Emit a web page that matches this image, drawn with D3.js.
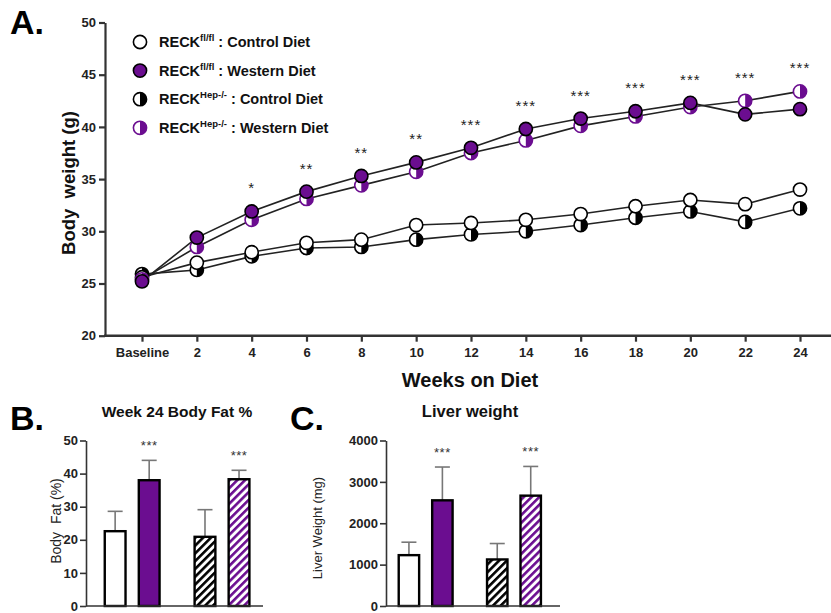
<!DOCTYPE html>
<html><head><meta charset="utf-8">
<script src="https://cdn.jsdelivr.net/npm/d3@7"></script>
<style>
body{margin:0;background:#fff;}
svg{display:block;}
</style></head><body>
<svg id="c" width="831" height="613"></svg>
<script>
// ---------- DATA ----------
const weeks = ["Baseline","2","4","6","8","10","12","14","16","18","20","22","24"];
const flCD  = [25.6, 27.0, 28.0, 28.9, 29.2, 30.6, 30.8, 31.1, 31.65, 32.4, 33.0, 32.6, 34.0];
const flWD  = [25.2, 29.4, 31.9, 33.8, 35.3, 36.6, 38.0, 39.8, 40.8, 41.5, 42.3, 41.2, 41.7];
const hepCD = [25.9, 26.3, 27.6, 28.4, 28.5, 29.2, 29.7, 30.0, 30.6, 31.3, 31.9, 30.9, 32.2];
const hepWD = [25.4, 28.5, 31.1, 33.1, 34.4, 35.7, 37.5, 38.7, 40.1, 41.0, 41.9, 42.5, 43.4];
const sigA  = ["", "", "*", "**", "**", "**", "***", "***", "***", "***", "***", "***", "***"];
const yTicksA = [20, 25, 30, 35, 40, 45, 50];

const barGroups = ["RECKfl/fl", "RECKHep-/-"];
const barDiets = ["Control Diet", "Western Diet"];
const fatMean = [22.6, 38.0, 20.9, 38.3];
const fatErr  = [6.0, 6.0, 8.2, 2.7];
const fatSig  = ["", "***", "", "***"];
const fatTicks = [0, 10, 20, 30, 40, 50];
const liverMean = [1229, 2554, 1125, 2667];
const liverErr  = [313, 805, 385, 706];
const liverSig  = ["", "***", "", "***"];
const liverTicks = [0, 1000, 2000, 3000, 4000];

// ---------- STYLE ----------
const purple = "#6b0d90";
const axisCol = "#333";
const narrow = "'Liberation Sans Narrow','Arial Narrow',sans-serif";
const sans = "'Liberation Sans',Arial,sans-serif";

const svg = d3.select("#c");
const defs = svg.append("defs");
function hatch(id, col){
  const p = defs.append("pattern").attr("id", id).attr("patternUnits","userSpaceOnUse")
    .attr("width", 5.5).attr("height", 10).attr("patternTransform","rotate(45)");
  p.append("rect").attr("width",5.5).attr("height",10).attr("fill","#fff");
  p.append("rect").attr("width",2.6).attr("height",10).attr("fill",col);
}
hatch("hB", "#000");
hatch("hP", purple);

// ---------- MARKERS ----------
function marker(g, cx, cy, type){
  const r = 6.6;
  const stroke = type === "halfPurple" ? purple : "#000";
  const fill = type === "filled" ? purple : "#fff";
  g.append("circle").attr("cx",cx).attr("cy",cy).attr("r",r).attr("fill",fill);
  if (type === "halfBlack" || type === "halfPurple") {
    g.append("path")
      .attr("d", `M${cx},${cy-r} A${r},${r} 0 0 1 ${cx},${cy+r} Z`)
      .attr("fill", type === "halfBlack" ? "#000" : purple);
  }
  g.append("circle").attr("cx",cx).attr("cy",cy).attr("r",r).attr("fill","none")
    .attr("stroke",stroke).attr("stroke-width",1.6);
}

// ---------- PANEL A ----------
const xA = d3.scalePoint().domain(weeks).range([142, 800]);
const yA = d3.scaleLinear().domain([20, 50]).range([335.7, 22.5]);
const gA = svg.append("g");

const yAxA = gA.append("g").attr("transform","translate(105,0)")
  .call(d3.axisLeft(yA).tickValues(yTicksA).tickSize(6).tickSizeOuter(0).tickPadding(3));
yAxA.select(".domain").attr("stroke",axisCol).attr("stroke-width",2.2);
yAxA.selectAll(".tick line").attr("stroke",axisCol).attr("stroke-width",2.2);
yAxA.selectAll(".tick text").attr("font-family",narrow).attr("font-weight","bold")
  .attr("font-size",13).attr("fill","#222");

const xAxA = gA.append("g").attr("transform",`translate(0,${yA(20)})`)
  .call(d3.axisBottom(xA).tickSize(6).tickPadding(6));
xAxA.select(".domain").remove();
xAxA.selectAll(".tick line").attr("stroke",axisCol).attr("stroke-width",2.2);
xAxA.selectAll(".tick text").attr("font-family",narrow).attr("font-weight","bold")
  .attr("font-size",13).attr("fill","#222");
gA.append("line").attr("x1",104).attr("x2",831).attr("y1",yA(20)).attr("y2",yA(20))
  .attr("stroke",axisCol).attr("stroke-width",2.4);

const series = [
  {values: flCD,  type: "open",       label: "fl/fl",  diet: " : Control Diet"},
  {values: flWD,  type: "filled",     label: "fl/fl",  diet: " : Western Diet"},
  {values: hepCD, type: "halfBlack",  label: "Hep-/-", diet: " : Control Diet"},
  {values: hepWD, type: "halfPurple", label: "Hep-/-", diet: " : Western Diet"}
];
const line = d3.line().x((d,i) => xA(weeks[i])).y(d => yA(d));
series.forEach(s => {
  gA.append("path").datum(s.values).attr("d", line).attr("fill","none")
    .attr("stroke","#222").attr("stroke-width",1.6);
});
[2, 0, 3, 1].forEach(k => {
  const s = series[k];
  const mg = gA.append("g");
  s.values.forEach((v,i) => marker(mg, xA(weeks[i]), yA(v), s.type));
});

// significance stars
sigA.forEach((s,i) => {
  if (!s) return;
  const top = Math.max(flWD[i], hepWD[i]);
  gA.append("text").attr("x", xA(weeks[i])).attr("y", yA(top) - 18)
    .attr("text-anchor","middle").attr("font-family",sans).attr("font-size",15)
    .attr("letter-spacing",1).attr("fill","#222").text(s);
});

// legend
series.forEach((s,i) => {
  const ly = 42 + i*28.6;
  marker(gA, 140, ly, s.type);
  const t = gA.append("text").attr("x",159).attr("y",ly+5).attr("font-family",sans)
    .attr("font-weight","bold").attr("font-size",14.5).attr("fill","#111");
  t.append("tspan").text("RECK");
  t.append("tspan").attr("dy",-6).attr("font-size",9.5).text(s.label);
  t.append("tspan").attr("dy",6).text(s.diet);
});

// titles
gA.append("text").attr("transform",`translate(75,183) rotate(-90)`)
  .attr("text-anchor","middle").attr("font-family",sans).attr("font-weight","bold")
  .attr("font-size",18.5).attr("fill","#111").attr("xml:space","preserve").text("Body  weight (g)");
gA.append("text").attr("x",470).attr("y",387).attr("text-anchor","middle")
  .attr("font-family",narrow).attr("font-weight","bold").attr("font-size",20).attr("fill","#111")
  .text("Weeks on Diet");
svg.append("text").attr("x",10).attr("y",34).attr("font-family",sans).attr("font-weight","bold")
  .attr("font-size",34).attr("fill","#000").text("A.");

// ---------- BAR PANELS ----------
function barPanel(o){
  const g = svg.append("g");
  const x0 = d3.scaleBand().domain(barGroups).range([o.x0, o.x1]).paddingInner(0.39).paddingOuter(0.18).align(o.align);
  const x1 = d3.scaleBand().domain(barDiets).range([0, x0.bandwidth()]).paddingInner(0.39).paddingOuter(0);
  const y = d3.scaleLinear().domain(o.domain).range([606, 440.5]);
  const fills = ["#fff", purple, "url(#hB)", "url(#hP)"];
  const bars = o.mean.map((m,i) => ({m, e:o.err[i], s:o.sig[i],
    x: x0(barGroups[Math.floor(i/2)]) + x1(barDiets[i%2]), fill: fills[i]}));
  const w = x1.bandwidth();
  // error bars
  bars.forEach(b => {
    const cx = b.x + w/2;
    g.append("line").attr("x1",cx).attr("x2",cx).attr("y1",y(b.m)).attr("y2",y(b.m+b.e))
      .attr("stroke","#777").attr("stroke-width",1.6);
    g.append("line").attr("x1",cx-7.5).attr("x2",cx+7.5).attr("y1",y(b.m+b.e)).attr("y2",y(b.m+b.e))
      .attr("stroke","#777").attr("stroke-width",1.6);
  });
  bars.forEach(b => {
    g.append("rect").attr("x",b.x).attr("y",y(b.m)).attr("width",w).attr("height",y(0)-y(b.m))
      .attr("fill",b.fill).attr("stroke","#000").attr("stroke-width",2.4);
    if (b.s) g.append("text").attr("x",b.x+w/2).attr("y",y(b.m+b.e)-10)
      .attr("text-anchor","middle").attr("font-family",sans).attr("font-size",13)
      .attr("letter-spacing",0.5).attr("fill","#333").text(b.s);
  });
  const ya = g.append("g").attr("transform",`translate(${o.x0},0)`)
    .call(d3.axisLeft(y).tickValues(o.ticks).tickFormat(d3.format("d")).tickSize(6).tickSizeOuter(0).tickPadding(2));
  ya.select(".domain").attr("stroke",axisCol).attr("stroke-width",1.6);
  ya.selectAll(".tick line").attr("stroke",axisCol).attr("stroke-width",1.6);
  ya.selectAll(".tick text").attr("font-family",narrow).attr("font-weight","bold")
    .attr("font-size",13).attr("fill","#222");
  g.append("line").attr("x1",o.x0).attr("x2",o.x1).attr("y1",y(0)).attr("y2",y(0))
    .attr("stroke",axisCol).attr("stroke-width",1.6);
  g.append("text").attr("transform",`translate(${o.labelX},${o.labelY}) rotate(-90)`)
    .attr("text-anchor","middle").attr("font-family",sans).attr("font-size",o.labelSize)
    .attr("fill","#222").attr("xml:space","preserve").text(o.label);
  g.append("text").attr("x",o.titleX).attr("y",417).attr("text-anchor","middle")
    .attr("font-family",sans).attr("font-weight","bold").attr("font-size",o.titleSize)
    .attr("fill","#111").text(o.title);
  g.append("text").attr("x",o.letterX).attr("y",430).attr("font-family",sans).attr("font-weight","bold")
    .attr("font-size",34).attr("fill","#000").text(o.letter);
}
barPanel({x0:86, x1:263, align:0.58, domain:[0,50], ticks:fatTicks, mean:fatMean, err:fatErr, sig:fatSig,
  label:"Body  Fat (%)", labelX:61, labelY:521, labelSize:14,
  title:"Week 24 Body Fat %", titleX:177, titleSize:15.5, letter:"B.", letterX:10});
barPanel({x0:386, x1:560, align:0.4, domain:[0,4000], ticks:liverTicks, mean:liverMean, err:liverErr, sig:liverSig,
  label:"Liver Weight (mg)", labelX:322, labelY:528, labelSize:13,
  title:"Liver weight", titleX:470, titleSize:16.5, letter:"C.", letterX:290});
</script>
</body></html>
